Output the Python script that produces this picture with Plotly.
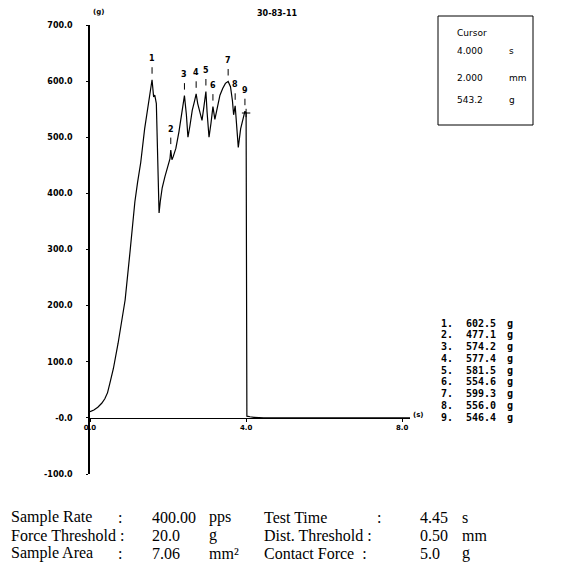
import plotly.graph_objects as go

# ---- data ----
time_s = [0.0, 0.1, 0.2, 0.3, 0.38, 0.45, 0.51, 0.6, 0.72, 0.8, 0.9, 1.03, 1.15, 1.22, 1.3,
          1.4, 1.5, 1.55, 1.59, 1.63, 1.66, 1.70, 1.74, 1.77, 1.80, 1.85, 1.92, 2.0, 2.05,
          2.07, 2.10, 2.13, 2.2, 2.28, 2.36, 2.42, 2.47, 2.51, 2.56, 2.62, 2.68, 2.72, 2.76,
          2.82, 2.87, 2.92, 2.97, 3.0, 3.05, 3.1, 3.15, 3.2, 3.26, 3.33, 3.4, 3.47, 3.54,
          3.6, 3.65, 3.68, 3.72, 3.76, 3.80, 3.86, 3.92, 3.97, 4.0, 4.005, 4.02, 4.1, 4.2,
          4.45, 6.0, 8.2]
force_g = [11, 14, 19, 26, 34, 45, 62, 88, 133, 165, 210, 299, 385, 420, 455,
           515, 565, 583, 602.5, 572, 575, 560, 450, 365, 385, 410, 430, 452, 462,
           477.1, 460, 465, 480, 510, 545, 574.2, 540, 500, 520, 548, 565, 577.4, 560,
           545, 530, 555, 581.5, 545, 500, 525, 554.6, 532, 550, 575, 587, 596, 599.3,
           590, 565, 540, 556.0, 520, 482, 515, 535, 546.4, 543.2, 200, 3, 2, 1,
           0, 0, 0]

peak_ids = ["1", "2", "3", "4", "5", "6", "7", "8", "9"]
peak_t = [1.59, 2.07, 2.42, 2.72, 2.97, 3.15, 3.54, 3.72, 3.97]
peak_g = [602.5, 477.1, 574.2, 577.4, 581.5, 554.6, 599.3, 556.0, 546.4]

cursor_t, cursor_mm, cursor_g = 4.000, 2.000, 543.2

y_ticks = [-100, 0, 100, 200, 300, 400, 500, 600, 700]
y_tick_text = ["-100.0", "-0.0", "100.0", "200.0", "300.0", "400.0", "500.0", "600.0", "700.0"]
x_ticks = [0, 4, 8]
x_tick_text = ["0.0", "4.0", "8.0"]

info_rows = [
    ["Sample Rate", ":", "400.00", "pps", "Test Time", ":", "4.45", "s"],
    ["Force Threshold :", "", "20.0", "g", "Dist. Threshold :", "", "0.50", "mm"],
    ["Sample Area", ":", "7.06", "mm²", "Contact Force  :", "", "5.0", "g"],
]

# ---- layout helpers (pixel -> paper) ----
L, R, T, B = 90, 410, 25, 474
W, H = 569, 567


def px(x):
    return (x - L) / (R - L)


def py(y):
    return (B - y) / (B - T)


fig = go.Figure()
fig.add_trace(go.Scatter(x=time_s, y=force_g, mode="lines",
                         line=dict(color="black", width=1.2), hoverinfo="skip"))
fig.add_trace(go.Scatter(x=[cursor_t], y=[cursor_g], mode="markers",
                         marker=dict(symbol="cross-thin", size=6,
                                     line=dict(color="black", width=1)),
                         hoverinfo="skip"))

ann = []


def note(x, y, text, font, xanchor="center", xref="paper", yref="paper", **kw):
    d = dict(x=x, y=y, xref=xref, yref=yref, text=text, showarrow=False,
             xanchor=xanchor, yanchor="middle", font=font)
    d.update(kw)
    ann.append(d)


tick_font = dict(family="DejaVu Sans", size=8, color="black")
for pid, t, g in zip(peak_ids, peak_t, peak_g):
    note(t, g, "<b>" + pid + "</b>", dict(family="DejaVu Sans", size=8, color="black"),
         xref="x", yref="y", yshift=21)
    # small vertical tick between the number and the peak
    ann.append(dict(x=t, y=g, xref="x", yref="y", text="", showarrow=True,
                    arrowhead=0, arrowwidth=1, arrowcolor="black",
                    ax=0, ay=-14, standoff=6))

# axis extras
note(px(98), py(12), "<b>(g)</b>", dict(family="DejaVu Sans", size=7, color="black"))
note(px(277), py(14), "<b>30-83-11</b>", dict(family="DejaVu Sans", size=8, color="black"))
note(8.2, 0, "<b>(s)</b>", dict(family="DejaVu Sans", size=7, color="black"),
     xanchor="left", xref="x", yref="y", yshift=3, xshift=1)

# cursor box
box_font = dict(family="DejaVu Sans", size=9, color="black")
note(px(455), py(33), "Cursor", box_font, xanchor="left")
for val, unit, yy in [(f"{cursor_t:.3f}", "s", 51), (f"{cursor_mm:.3f}", "mm", 78),
                      (f"{cursor_g:.1f}", "g", 100)]:
    note(px(455), py(yy), val, box_font, xanchor="left")
    note(px(507), py(yy), unit, box_font, xanchor="left")

# peak list
list_font = dict(family="DejaVu Sans Mono", size=10, color="black")
for i, (pid, g) in enumerate(zip(peak_ids, peak_g)):
    yy = 323 + i * 11.75
    note(px(439), py(yy), f"<b>{pid}.</b>", list_font, xanchor="left")
    note(px(498), py(yy), f"<b>{g:.1f}</b>", list_font, xanchor="right")
    note(px(505), py(yy), "<b>g</b>", list_font, xanchor="left")

# bottom info text
serif = dict(family="Liberation Serif", size=16, color="black")
col_x = [9, 116, 150, 207, 262, 375, 418, 460]
row_y = [517, 535, 553]
for r, row in enumerate(info_rows):
    for c, txt in enumerate(row):
        if txt:
            note(px(col_x[c]), py(row_y[r]), txt, serif, xanchor="left")

fig.update_layout(
    width=W, height=H,
    margin=dict(l=L, r=W - R, t=T, b=H - B),
    paper_bgcolor="white", plot_bgcolor="white",
    showlegend=False,
    annotations=ann,
    shapes=[dict(type="rect", xref="paper", yref="paper",
                 x0=px(438), x1=px(533), y0=py(125), y1=py(16),
                 line=dict(color="black", width=1))],
    xaxis=dict(range=[0, 8.2], anchor="free", position=100 / 800,
               showline=True, linecolor="black", linewidth=1,
               showgrid=False, zeroline=False,
               tickmode="array", tickvals=x_ticks,
               ticktext=["<b>" + s + "</b>" for s in x_tick_text],
               ticks="outside", ticklen=3, tickcolor="black",
               tickfont=dict(family="DejaVu Sans", size=7, color="black")),
    yaxis=dict(range=[-100, 700], showline=True, linecolor="black", linewidth=1.5,
               showgrid=False, zeroline=False,
               tickmode="array", tickvals=y_ticks,
               ticktext=["<b>" + s + "</b>" for s in y_tick_text],
               ticks="outside", ticklen=2, tickcolor="black",
               ticklabelstandoff=12, tickfont=tick_font),
)

fig.write_html("out.html", config={"displayModeBar": False},
               post_script="document.body.style.margin='0';")
